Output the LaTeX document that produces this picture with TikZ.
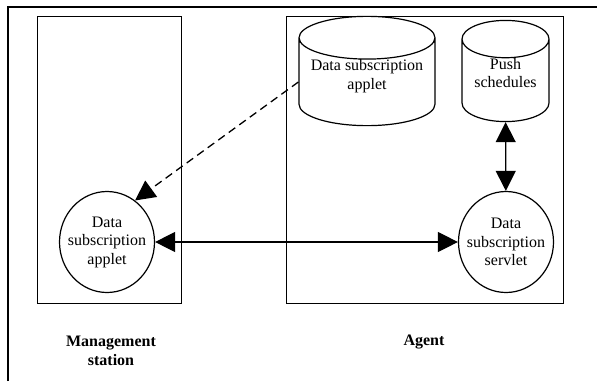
\documentclass[tikz,border=0pt]{standalone}
\usepackage{fontspec}
\setmainfont{Liberation Serif}
\usetikzlibrary{arrows.meta,shapes.geometric}

\tikzset{
  store/.style={cylinder, shape border rotate=90, draw, line width=1.2pt, align=center, inner sep=0pt, text depth=15pt, anchor=shape center},
  proc/.style={ellipse, draw, line width=1.2pt, align=center, inner xsep=-9pt, inner ysep=0pt},
  area/.style={draw, line width=0.8pt},
  flow/.style={line width=1.2pt, {Triangle[length=20pt,width=20pt]}-{Triangle[length=20pt,width=20pt]}},
  load/.style={line width=1.3pt, dash pattern=on 8pt off 5pt, -{Triangle[length=20pt,width=20pt]}},
}

\begin{document}
\begin{tikzpicture}[x=1pt,y=-1pt,font=\fontsize{16}{18.5}\selectfont]
	\useasboundingbox (0,0) rectangle (597,381);
	\draw[line width=2pt] (8,381) -- (8,7) -- (597,7);
	
	% management station and agent
	\draw[area] (37,16) rectangle (181,303);
	\draw[area] (286,16) rectangle (563,303);
	
	\node[store, minimum width=136pt, minimum height=96pt, aspect=0.38] (capplet) at (367,71) {Data subscription\\applet};
	\node[store, minimum width=87pt, minimum height=96pt, aspect=0.6] (sched) at (505.5,71) {Push\\schedules};
	
	\node[proc, minimum width=95pt, minimum height=101pt] (lapplet) at (107,242) {Data\\subscription\\applet};
	\node[proc, minimum width=95pt, minimum height=101pt] (servlet) at (506,242) {Data\\subscription\\servlet};
	
	\draw[flow] (lapplet) -- (servlet);
	\draw[flow] (sched) -- (servlet);
	\draw[load] (capplet.west) -- (lapplet.56);
	
	\node[font=\fontsize{16}{18.5}\selectfont\bfseries, align=center] (mlabel) at (111,351) {Management\\station};
	\node[font=\fontsize{16}{18.5}\selectfont\bfseries] (alabel) at (424,342) {Agent};
\end{tikzpicture}
\end{document}
